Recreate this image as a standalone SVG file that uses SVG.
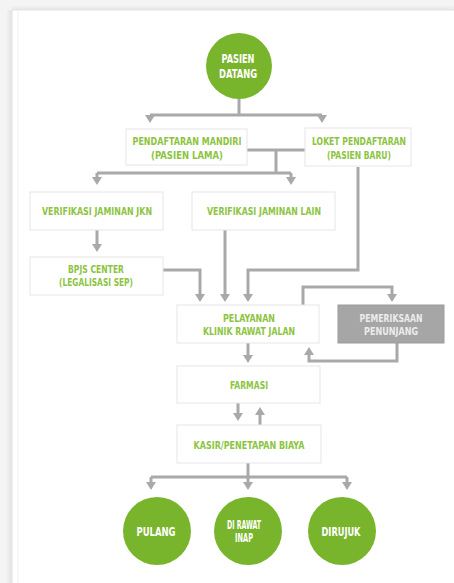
<svg xmlns="http://www.w3.org/2000/svg" width="454" height="583" viewBox="0 0 454 583">
<style>
.box{fill:#ffffff;stroke:#e6e6e6;stroke-width:1}
.gbox{fill:#a6a6a6;stroke:#9c9c9c;stroke-width:1}
.circ{fill:#79b52c}
.t{font-family:"DejaVu Sans Condensed","DejaVu Sans",sans-serif;font-stretch:condensed;font-weight:bold;font-size:10px;fill:#8cc43f;text-anchor:middle}
.tg{fill:#ececec}
.tc{font-size:12px;fill:#ffffff}
.c{fill:none;stroke:#a9a9a9;stroke-width:3}
</style>
<defs>
<marker id="ah" viewBox="0 0 8 10" refX="2" refY="5" markerWidth="8" markerHeight="10" markerUnits="userSpaceOnUse" orient="auto">
<path d="M0,0 L8,5 L0,10 z" fill="#a9a9a9"/>
</marker>
<linearGradient id="shl" x1="0" y1="0" x2="1" y2="0">
<stop offset="0" stop-color="#f4f4f4"/>
<stop offset="1" stop-color="#e2e2e2"/>
</linearGradient>
<linearGradient id="sht" x1="0" y1="0" x2="0" y2="1">
<stop offset="0" stop-color="#f4f4f4"/>
<stop offset="1" stop-color="#e6e6e6"/>
</linearGradient>
</defs>
<rect x="0" y="0" width="454" height="583" fill="#f4f4f4"/>
<rect x="6" y="10" width="6" height="573" fill="url(#shl)"/>
<rect x="12" y="5" width="442" height="5" fill="url(#sht)"/>
<rect x="12" y="10" width="460" height="590" fill="#ffffff" stroke="#e4e4e4"/>
<line x1="18" y1="12" x2="18" y2="583" stroke="#f0f0f0" stroke-width="1"/>

<g id="connectors">
<path class="c" d="M239,99 V115"/>
<path class="c" d="M150,115 H322"/>
<path class="c" d="M150,115 V117" marker-end="url(#ah)"/>
<path class="c" d="M322,115 V117" marker-end="url(#ah)"/>
<path class="c" d="M247,150 H305"/>
<path class="c" d="M276,150 V173"/>
<path class="c" d="M97,173 H291"/>
<path class="c" d="M97,173 V179" marker-end="url(#ah)"/>
<path class="c" d="M291,173 V179" marker-end="url(#ah)"/>
<path class="c" d="M358,167 V270 H248 V296" marker-end="url(#ah)"/>
<path class="c" d="M97,230 V246" marker-end="url(#ah)"/>
<path class="c" d="M163,270 H200 V296" marker-end="url(#ah)"/>
<path class="c" d="M225,230 V296" marker-end="url(#ah)"/>
<path class="c" d="M303,305 V287 H392 V296" marker-end="url(#ah)"/>
<path class="c" d="M397,343 V361 H309 V353" marker-end="url(#ah)"/>
<path class="c" d="M248,343 V357" marker-end="url(#ah)"/>
<path class="c" d="M238,403 V415" marker-end="url(#ah)"/>
<path class="c" d="M260,425 V413" marker-end="url(#ah)"/>
<path class="c" d="M248,463 V477"/>
<path class="c" d="M151,477 H347"/>
<path class="c" d="M151,477 V484" marker-end="url(#ah)"/>
<path class="c" d="M248,477 V484" marker-end="url(#ah)"/>
<path class="c" d="M347,477 V484" marker-end="url(#ah)"/>
</g>

<g id="pasien-datang">
<circle class="circ" cx="239" cy="66" r="33"/>
<text class="t tc" x="238" y="62.5" textLength="33" lengthAdjust="spacingAndGlyphs">PASIEN</text>
<text class="t tc" x="238" y="77.5" textLength="38" lengthAdjust="spacingAndGlyphs">DATANG</text>
</g>

<g id="pendaftaran-mandiri">
<rect class="box" x="126" y="129" width="121" height="36"/>
<text class="t" x="187" y="144.5" textLength="109" lengthAdjust="spacingAndGlyphs">PENDAFTARAN MANDIRI</text>
<text class="t" x="187" y="158.5" textLength="72" lengthAdjust="spacingAndGlyphs">(PASIEN LAMA)</text>
</g>

<g id="loket-pendaftaran">
<rect class="box" x="305" y="128" width="106" height="38"/>
<text class="t" x="359" y="144.5" textLength="94" lengthAdjust="spacingAndGlyphs">LOKET PENDAFTARAN</text>
<text class="t" x="359" y="158.5" textLength="64" lengthAdjust="spacingAndGlyphs">(PASIEN BARU)</text>
</g>

<g id="verifikasi-jkn">
<rect class="box" x="30" y="192" width="133" height="38"/>
<text class="t" x="97" y="214.5" textLength="110" lengthAdjust="spacingAndGlyphs">VERIFIKASI JAMINAN JKN</text>
</g>

<g id="verifikasi-lain">
<rect class="box" x="192" y="192" width="143" height="38"/>
<text class="t" x="264" y="214.5" textLength="114" lengthAdjust="spacingAndGlyphs">VERIFIKASI JAMINAN LAIN</text>
</g>

<g id="bpjs-center">
<rect class="box" x="30" y="257" width="133" height="38"/>
<text class="t" x="96" y="273" textLength="56" lengthAdjust="spacingAndGlyphs">BPJS CENTER</text>
<text class="t" x="96" y="285.5" textLength="74" lengthAdjust="spacingAndGlyphs">(LEGALISASI SEP)</text>
</g>

<g id="pelayanan">
<rect class="box" x="177" y="305" width="142" height="38"/>
<text class="t" x="249" y="321.5" textLength="52" lengthAdjust="spacingAndGlyphs">PELAYANAN</text>
<text class="t" x="249" y="334.5" textLength="92" lengthAdjust="spacingAndGlyphs">KLINIK RAWAT JALAN</text>
</g>

<g id="pemeriksaan-penunjang">
<rect class="gbox" x="338" y="305" width="106" height="38"/>
<text class="t tg" x="391" y="321.5" textLength="63" lengthAdjust="spacingAndGlyphs">PEMERIKSAAN</text>
<text class="t tg" x="391" y="334.5" textLength="54" lengthAdjust="spacingAndGlyphs">PENUNJANG</text>
</g>

<g id="farmasi">
<rect class="box" x="177" y="366" width="143" height="37"/>
<text class="t" x="249" y="388.5" textLength="38" lengthAdjust="spacingAndGlyphs">FARMASI</text>
</g>

<g id="kasir">
<rect class="box" x="177" y="425" width="144" height="38"/>
<text class="t" x="249" y="448.5" textLength="111" lengthAdjust="spacingAndGlyphs">KASIR/PENETAPAN BIAYA</text>
</g>

<g id="pulang">
<circle class="circ" cx="157" cy="531" r="34"/>
<text class="t tc" x="156" y="535.5" textLength="39" lengthAdjust="spacingAndGlyphs">PULANG</text>
</g>

<g id="di-rawat-inap">
<circle class="circ" cx="248" cy="531" r="34"/>
<text class="t tc" x="244" y="529" textLength="34" lengthAdjust="spacingAndGlyphs">DI RAWAT</text>
<text class="t tc" x="244" y="542" textLength="18" lengthAdjust="spacingAndGlyphs">INAP</text>
</g>

<g id="dirujuk">
<circle class="circ" cx="342" cy="531" r="34"/>
<text class="t tc" x="341" y="535.5" textLength="39" lengthAdjust="spacingAndGlyphs">DIRUJUK</text>
</g>
</svg>
